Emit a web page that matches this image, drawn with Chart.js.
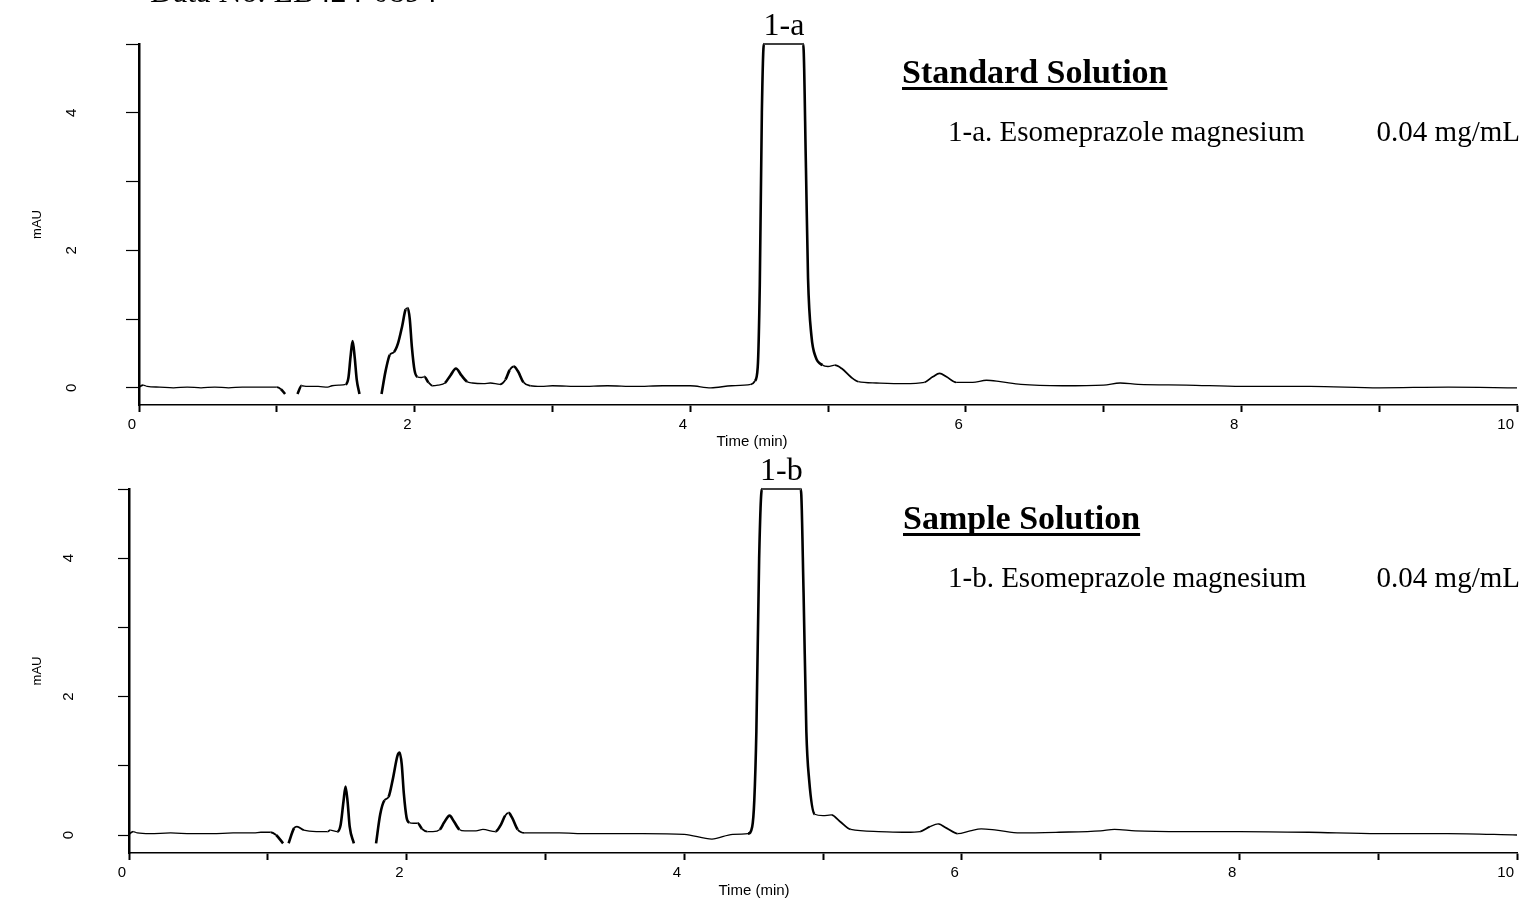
<!DOCTYPE html>
<html>
<head>
<meta charset="utf-8">
<script src="https://cdn.jsdelivr.net/npm/chart.js@4.4.1/dist/chart.umd.min.js"></script>
<style>
  html, body { margin: 0; padding: 0; background: #fff; }
  #wrap { position: relative; width: 1522px; height: 899px; overflow: hidden; }
  .box { position: absolute; left: 0; width: 1522px; }
</style>
</head>
<body>
<div id="wrap">
  <div class="box" style="top:0;height:460px"><canvas id="chartA"></canvas></div>
  <div class="box" style="top:450px;height:449px"><canvas id="chartB"></canvas></div>
</div>
<script>
// standard solution trace (time in min, signal in mAU), null = break in the trace
const timeA = [0.00, 0.03, 0.06, 0.15, 0.25, 0.35, 0.45, 0.55, 0.65, 0.75, 0.85, 0.95, 1.00, 1.03, 1.06, 1.11,
  1.15, 1.18, 1.22, 1.30, 1.37, 1.40, 1.45, 1.50, 1.52, 1.535, 1.55, 1.565, 1.58, 1.60, 1.70,
  1.76, 1.79, 1.82, 1.85, 1.88, 1.91, 1.935, 1.95, 1.965, 1.98, 2.00, 2.02, 2.05, 2.07, 2.10, 2.13, 2.17,
  2.22, 2.26, 2.30, 2.34, 2.38, 2.42, 2.50, 2.55, 2.62, 2.66, 2.69, 2.72, 2.75, 2.79, 2.84,
  2.92, 3.00, 3.20, 3.40, 3.60, 3.80, 4.00, 4.15,
  4.30, 4.44, 4.47, 4.49, 4.505, 4.52, 4.535, 4.82, 4.84, 4.855, 4.88, 4.91, 4.96, 5.00, 5.05, 5.10, 5.17, 5.22,
  5.35, 5.55, 5.70, 5.76, 5.81, 5.86, 5.93, 6.05, 6.15, 6.25, 6.40, 6.70, 7.00, 7.12, 7.25, 7.60, 8.00,
  8.50, 9.00, 9.50, 10.00];
const signalA = [0.01, 0.04, 0.02, 0.01, 0.00, 0.01, 0.00, 0.01, 0.00, 0.01, 0.01, 0.01, 0.01, -0.02, -0.09, null,
  -0.09, 0.03, 0.02, 0.02, 0.01, 0.03, 0.04, 0.05, 0.15, 0.45, 0.68, 0.45, 0.12, -0.09, null,
  -0.09, 0.25, 0.48, 0.52, 0.65, 0.90, 1.14, 1.16, 1.00, 0.60, 0.25, 0.16, 0.15, 0.16, 0.08, 0.03, 0.04,
  0.07, 0.18, 0.28, 0.18, 0.09, 0.07, 0.06, 0.07, 0.05, 0.12, 0.26, 0.31, 0.24, 0.08, 0.03,
  0.02, 0.03, 0.02, 0.03, 0.02, 0.03, 0.03, 0.00,
  0.03, 0.05, 0.10, 0.30, 1.50, 4.00, 5.00, 5.00, 3.20, 1.60, 0.75, 0.45, 0.33, 0.31, 0.33, 0.28, 0.15, 0.09,
  0.07, 0.06, 0.08, 0.16, 0.21, 0.16, 0.08, 0.08, 0.11, 0.09, 0.05, 0.03, 0.04, 0.07, 0.05, 0.04, 0.02,
  0.02, 0.00, 0.01, 0.00];

// sample solution trace
const timeB = [0.00, 0.03, 0.06, 0.15, 0.30, 0.45, 0.60, 0.75, 0.90, 0.95, 1.02, 1.06, 1.11, 1.13,
  1.15, 1.19, 1.21, 1.26, 1.35, 1.43, 1.45, 1.50, 1.525, 1.545, 1.56, 1.575, 1.59, 1.62, 1.70,
  1.78, 1.81, 1.84, 1.87, 1.90, 1.935, 1.95, 1.965, 1.98, 2.00, 2.02, 2.05, 2.08, 2.11, 2.15, 2.19,
  2.24, 2.27, 2.31, 2.34, 2.38, 2.42, 2.50, 2.55, 2.64, 2.68, 2.71, 2.735, 2.76, 2.80, 2.85,
  2.95, 3.10, 3.30, 3.50, 3.70, 4.00, 4.20, 4.35,
  4.46, 4.49, 4.505, 4.52, 4.54, 4.56, 4.84, 4.86, 4.88, 4.90, 4.94, 5.00, 5.06, 5.12, 5.20,
  5.40, 5.60, 5.70, 5.77, 5.83, 5.89, 5.97, 6.06, 6.14, 6.25, 6.42, 6.70, 7.00, 7.10, 7.25, 7.60, 8.00,
  8.50, 9.00, 9.50, 10.00];
const signalB = [0.01, 0.05, 0.03, 0.02, 0.03, 0.02, 0.02, 0.03, 0.03, 0.04, 0.04, 0.00, -0.12, null,
  -0.12, 0.10, 0.12, 0.07, 0.05, 0.05, 0.07, 0.05, 0.15, 0.48, 0.70, 0.48, 0.12, -0.12, null,
  -0.12, 0.30, 0.50, 0.55, 0.80, 1.15, 1.19, 1.02, 0.60, 0.25, 0.18, 0.17, 0.17, 0.09, 0.05, 0.05,
  0.08, 0.18, 0.28, 0.20, 0.08, 0.06, 0.06, 0.08, 0.05, 0.15, 0.28, 0.32, 0.25, 0.08, 0.03,
  0.03, 0.03, 0.02, 0.02, 0.02, 0.01, -0.06, 0.01,
  0.02, 0.12, 0.50, 1.50, 4.00, 5.00, 5.00, 3.50, 1.50, 0.80, 0.30, 0.28, 0.29, 0.20, 0.08,
  0.05, 0.04, 0.05, 0.12, 0.16, 0.10, 0.02, 0.06, 0.09, 0.07, 0.03, 0.04, 0.06, 0.08, 0.06, 0.05, 0.05,
  0.04, 0.02, 0.02, 0.00];

const xTicks = [0, 1, 2, 3, 4, 5, 6, 7, 8, 9, 10];
const yTicks = [0, 1, 2, 3, 4, 5];

const SERIF = "'Liberation Serif', 'Times New Roman', serif";
const SANS = "'Liberation Sans', Arial, sans-serif";

// draws the free text of each panel; peak labels follow the x scale
const notesPlugin = {
  id: 'notes',
  afterDraw(chart, args, opts) {
    const ctx = chart.ctx;
    const xs = chart.scales.x;
    ctx.save();
    ctx.fillStyle = '#000';
    ctx.textBaseline = 'alphabetic';
    for (const n of opts.items || []) {
      ctx.font = n.font;
      ctx.textAlign = n.align || 'left';
      const px = n.t != null ? xs.getPixelForValue(n.t) : n.x;
      const py = n.aboveArea != null ? chart.chartArea.top - n.aboveArea : n.y;
      ctx.fillText(n.text, px, py);
      if (n.underline) {
        const w = ctx.measureText(n.text).width;
        ctx.fillRect(px, py + 4, w, 3);
      }
    }
    ctx.restore();
  }
};

function makeChart(id, times, signal, cfg) {
  const points = times.map((t, i) => ({ x: t, y: signal[i] }));
  return new Chart(document.getElementById(id), {
    type: 'line',
    data: {
      datasets: [{
        data: points,
        borderColor: '#000',
        borderWidth: 1.3,
        pointRadius: 0,
        cubicInterpolationMode: 'monotone',
        spanGaps: false,
        clip: 4,
        segment: {
          borderWidth: c => {
            const s = Math.abs((c.p1.parsed.y - c.p0.parsed.y) / (c.p1.parsed.x - c.p0.parsed.x));
            return s > 2 ? 2.6 : s > 0.8 ? 1.8 : 1.3;
          }
        }
      }]
    },
    options: {
      responsive: true,
      maintainAspectRatio: false,
      animation: false,
      layout: { padding: { left: 0, top: cfg.top, right: 5, bottom: 0 } },
      plugins: {
        legend: { display: false },
        tooltip: { enabled: false },
        notes: { items: cfg.notes }
      },
      scales: {
        x: {
          type: 'linear',
          min: 0, max: 10,
          afterBuildTicks: s => { s.ticks = xTicks.map(v => ({ value: v })); },
          afterFit: s => { s.height = cfg.xAxisH; s.paddingLeft = 0; s.paddingRight = 0; },
          border: { display: true, color: '#000', width: 1.6 },
          grid: { drawOnChartArea: false, drawTicks: true, tickLength: 7, tickWidth: 2, tickColor: '#000' },
          ticks: {
            autoSkip: false, maxRotation: 0, align: 'end', labelOffset: -3, padding: 4,
            color: '#000', font: { family: SANS, size: 15 },
            callback: v => (v % 2 === 0 ? v : '')
          }
        },
        y: {
          min: cfg.yMin, max: 5,
          afterBuildTicks: s => { s.ticks = yTicks.map(v => ({ value: v })); },
          afterFit: s => { s.width = cfg.axisLeft; s.paddingTop = 0; s.paddingBottom = 0; },
          border: { display: true, color: '#000', width: 2.5 },
          grid: { drawOnChartArea: false, drawTicks: true, tickLength: cfg.tickLen, tickWidth: 1.2, tickColor: '#000' },
          title: { display: true, text: 'mAU', color: '#000', font: { family: SANS, size: 13 }, padding: { top: 30, bottom: 0 } },
          ticks: {
            autoSkip: false, minRotation: 90, maxRotation: 90, crossAlign: 'center', padding: cfg.tickPad,
            color: '#000', font: { family: SANS, size: 15 },
            callback: v => (v % 2 === 0 ? v : '')
          }
        }
      }
    },
    plugins: [notesPlugin]
  });
}

makeChart('chartA', timeA, signalA, {
  top: 44, axisLeft: 139, xAxisH: 55, yMin: -0.25, tickLen: 13, tickPad: 50,
  notes: [
    { text: 'Data No. LB424-0894', font: `32px ${SERIF}`, x: 150, y: 2 },
    { text: '1-a', font: `32px ${SERIF}`, t: 4.68, aboveArea: 9, align: 'center' },
    { text: 'Standard Solution', font: `bold 34px ${SERIF}`, x: 902, y: 83, underline: true },
    { text: '1-a. Esomeprazole magnesium', font: `29px ${SERIF}`, x: 948, y: 141 },
    { text: '0.04 mg/mL', font: `29px ${SERIF}`, x: 1520, y: 141, align: 'right' },
    { text: 'Time (min)', font: `15px ${SANS}`, x: 752, y: 446, align: 'center' }
  ]
});

makeChart('chartB', timeB, signalB, {
  top: 39, axisLeft: 129, xAxisH: 46, yMin: -0.26, tickLen: 11, tickPad: 45,
  notes: [
    { text: '1-b', font: `32px ${SERIF}`, t: 4.70, aboveArea: 9, align: 'center' },
    { text: 'Sample Solution', font: `bold 34px ${SERIF}`, x: 903, y: 79, underline: true },
    { text: '1-b. Esomeprazole magnesium', font: `29px ${SERIF}`, x: 948, y: 137 },
    { text: '0.04 mg/mL', font: `29px ${SERIF}`, x: 1520, y: 137, align: 'right' },
    { text: 'Time (min)', font: `15px ${SANS}`, x: 754, y: 445, align: 'center' }
  ]
});
</script>
</body>
</html>
